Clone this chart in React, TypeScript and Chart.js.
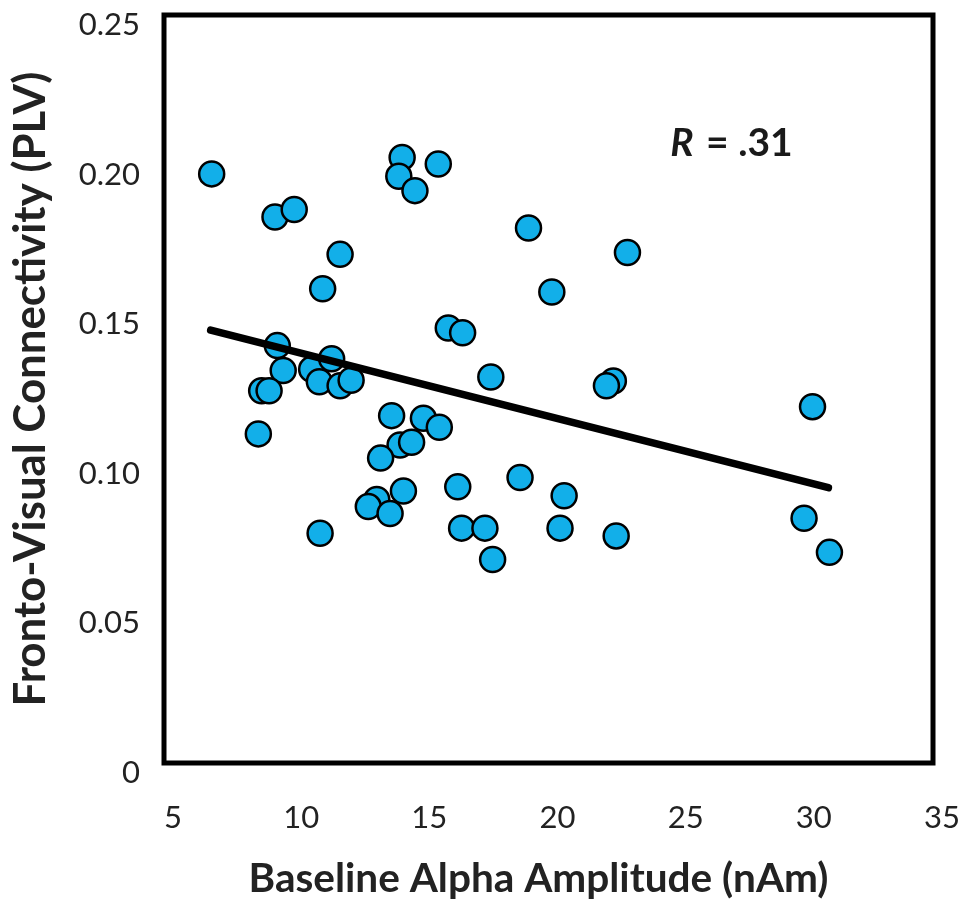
import React, { useEffect, useRef } from "react";
import { Chart, registerables } from "chart.js";

Chart.register(...registerables);

// Baseline alpha amplitude (nAm)
const alphaAmplitude = [
  6.86, 9.33, 10.08, 11.87, 11.19, 14.29, 14.16, 14.79, 15.70, 9.42,
  9.65, 8.81, 9.10, 10.76, 11.54, 11.06, 11.87, 12.30, 8.68, 13.88,
  15.12, 15.74, 14.21, 14.66, 13.45, 14.34, 13.30, 12.97, 13.82, 11.09,
  16.46, 18.89, 16.61, 17.52, 17.82, 19.22, 23.08, 20.13, 16.09, 16.65,
  17.75, 22.53, 22.26, 20.61, 20.45, 22.64, 30.30, 29.97, 30.96,
];
// Fronto-visual connectivity (PLV)
const connectivity = [
  0.1969, 0.1825, 0.1850, 0.1700, 0.1585, 0.2024, 0.1961, 0.1913, 0.2002, 0.1395,
  0.1312, 0.1244, 0.1244, 0.1316, 0.1351, 0.1274, 0.1261, 0.1279, 0.1100, 0.1161,
  0.1152, 0.1122, 0.1063, 0.1072, 0.1019, 0.0909, 0.0881, 0.0857, 0.0834, 0.0768,
  0.0923, 0.0954, 0.0785, 0.0785, 0.0680, 0.1788, 0.1706, 0.1574, 0.1454, 0.1438,
  0.1290, 0.1277, 0.1261, 0.0893, 0.0785, 0.0759, 0.1191, 0.0818, 0.0704,
];
// Regression line end points
const fitX = [6.82, 30.92];
const fitY = [0.1447, 0.092];

const xTicks = [5, 10, 15, 20, 25, 30, 35];
const yTicks = [0, 0.05, 0.1, 0.15, 0.2, 0.25];
const xTitle = "Baseline Alpha Amplitude (nAm)";
const yTitle = "Fronto-Visual Connectivity (PLV)";
const rLabel = ".31";

const FONT = "Lato, 'Open Sans', sans-serif";

function fitSize(ctx: CanvasRenderingContext2D, text: string, weight: string, target: number) {
  ctx.font = `${weight} 40px ${FONT}`;
  const w = ctx.measureText(text).width;
  return Math.max(20, Math.min(48, (40 * target) / w));
}

const boxPlugin = {
  id: "boxAndLabel",
  afterDatasetsDraw(chart: any) {
    const { ctx, scales } = chart;
    ctx.save();
    const px = scales.x.getPixelForValue(24.75);
    const py = scales.y.getPixelForValue(0.207);
    ctx.fillStyle = "#1a1a1a";
    ctx.textBaseline = "middle";
    ctx.textAlign = "left";
    ctx.font = `italic bold 39px ${FONT}`;
    ctx.fillText("R", px, py);
    const w = ctx.measureText("R").width;
    ctx.font = `bold 39px ${FONT}`;
    ctx.fillText(" = " + rLabel, px + w + 3, py);
    ctx.restore();
  },
  afterDraw(chart: any) {
    const { ctx, chartArea } = chart;
    ctx.save();
    ctx.strokeStyle = "#000";
    ctx.lineWidth = 5;
    ctx.strokeRect(
      chartArea.left,
      chartArea.top,
      chartArea.right - chartArea.left,
      chartArea.bottom - chartArea.top
    );
    // axis titles
    ctx.fillStyle = "#222";
    ctx.textAlign = "center";
    ctx.textBaseline = "middle";
    const xs = fitSize(ctx, xTitle, "bold", 580);
    ctx.font = `bold ${xs}px ${FONT}`;
    ctx.fillText(xTitle, chartArea.left + (chartArea.right - chartArea.left) * 0.487, 879);
    const ys = fitSize(ctx, yTitle, "bold", 635);
    ctx.translate(31, (chartArea.top + chartArea.bottom) / 2);
    ctx.rotate(-Math.PI / 2);
    ctx.font = `bold ${ys}px ${FONT}`;
    ctx.fillText(yTitle, 0, 0);
    ctx.restore();
  },
};

export default function App() {
  const ref = useRef<HTMLCanvasElement>(null);
  useEffect(() => {
    document.body.style.margin = "0";
    const points = alphaAmplitude.map((x, i) => ({ x, y: connectivity[i] }));
    const fit = fitX.map((x, i) => ({ x, y: fitY[i] }));
    const chart = new Chart(ref.current!, {
      type: "scatter",
      data: {
        datasets: [
          {
            type: "line",
            data: fit,
            borderColor: "#000",
            borderWidth: 7.5,
            borderCapStyle: "round",
            pointRadius: 0,
            fill: false,
            order: 0,
          } as any,
          {
            data: points,
            backgroundColor: "#12afe9",
            borderColor: "#000",
            borderWidth: 2.5,
            pointRadius: 12.5,
            order: 1,
          },
        ],
      },
      options: {
        animation: false,
        responsive: false,
        events: [],
        layout: { padding: { left: 12, top: 10, right: 47, bottom: 0 } },
        plugins: { legend: { display: false }, tooltip: { enabled: false } },
        scales: {
          x: {
            type: "linear",
            min: 5,
            max: 35,
            afterBuildTicks: (s: any) => {
              s.ticks = xTicks.map((v) => ({ value: v }));
            },
            afterFit: (s: any) => {
              s.height = 139;
              s.paddingLeft = 0;
              s.paddingRight = 0;
            },
            grid: { display: false, drawTicks: false },
            border: { display: false },
            ticks: {
              padding: 36,
              labelOffset: 9,
              color: "#222",
              font: { family: FONT, size: 31 },
              maxRotation: 0,
              autoSkip: false,
            },
            title: { display: false },
          },
          y: {
            type: "linear",
            min: 0,
            max: 0.25,
            afterBuildTicks: (s: any) => {
              s.ticks = yTicks.map((v) => ({ value: v }));
            },
            afterFit: (s: any) => {
              s.width = 152;
              s.paddingTop = 0;
              s.paddingBottom = 0;
            },
            grid: { display: false, drawTicks: false },
            border: { display: false },
            ticks: {
              padding: 24,
              labelOffset: 10,
              color: "#222",
              font: { family: FONT, size: 31 },
              callback: (v: any) => (v === 0 ? "0" : Number(v).toFixed(2)),
              autoSkip: false,
            },
            title: { display: false },
          },
        },
      },
      plugins: [boxPlugin],
    });
    return () => chart.destroy();
  }, []);
  return (
    <div style={{ width: 980, height: 902, background: "#fff" }}>
      <canvas ref={ref} width={980} height={902} />
    </div>
  );
}
